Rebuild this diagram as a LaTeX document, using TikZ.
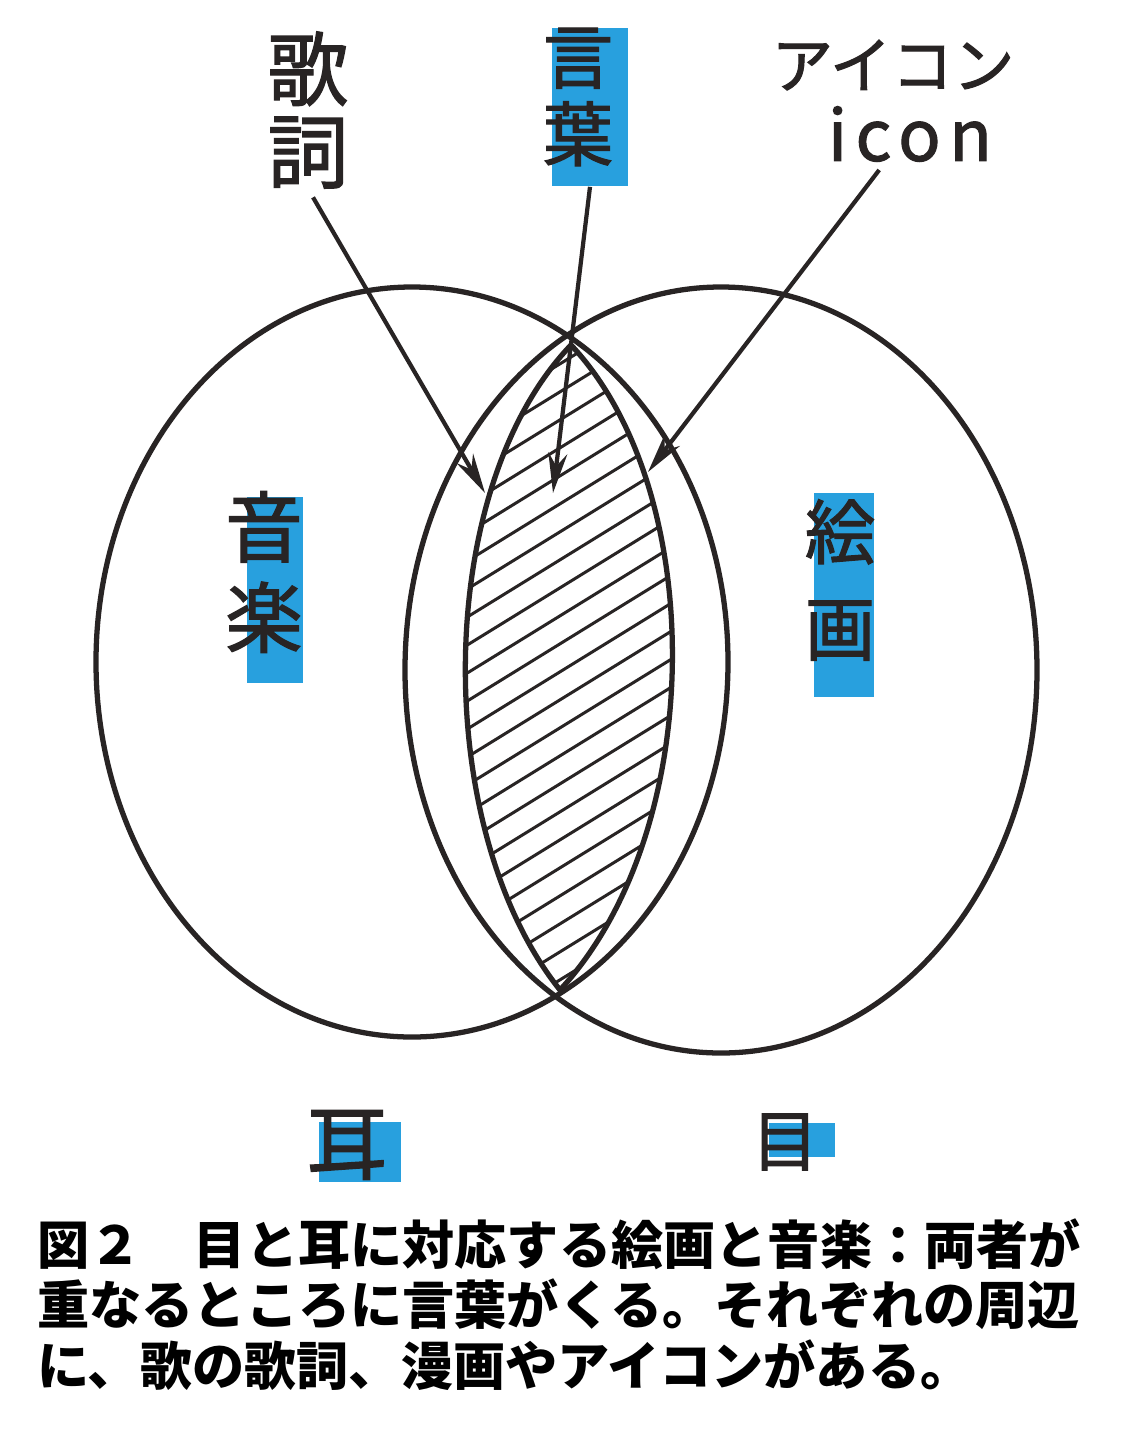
\documentclass[tikz,border=0pt]{standalone}
\usepackage{fontspec}
\newfontfamily\jp{Noto Sans CJK JP}
\newfontfamily\jphand{Noto Sans CJK JP}[FakeBold=1.6]
\usetikzlibrary{positioning, arrows.meta, calc}

\definecolor{ink}{RGB}{40,36,36}
\definecolor{marker}{RGB}{40,160,222}

\begin{document}
\begin{tikzpicture}[
    x=0.02cm, y=-0.02cm,
    outline/.style={
        draw=ink,
        line width=3pt
    },
    hatch/.style={
        draw=ink,
        line width=1.7pt
    },
    arrow/.style={
        draw=ink,
        line width=2.4pt,
        shorten <=2mm,
        -{Stealth[length=8mm, width=3.8mm]}
    },
    markbg/.style={
        fill=marker,
        draw=none,
        inner sep=0pt
    },
    hand/.style={
        text=ink,
        inner sep=0pt,
        align=center
    },
    caption/.style={
        text=black,
        inner sep=0pt,
        align=left,
        font=\jp\bfseries\fontsize{29.7pt}{34.6pt}\selectfont
    }
]

    % Paper
    \useasboundingbox (0,0) rectangle (1125,1438);
    \fill[white] (0,0) rectangle (1125,1438);

    % Highlighter marks
    \node[markbg, minimum width=1.52cm, minimum height=3.18cm] (words_bg) at (590,107) {};
    \node[markbg, minimum width=1.12cm, minimum height=3.72cm] (music_bg) at (275,590) {};
    \node[markbg, minimum width=1.2cm, minimum height=4.08cm] (picture_bg) at (844,595) {};
    \node[markbg, minimum width=1.66cm, minimum height=1.2cm] (ear_bg) at (360,1152) {};
    \node[markbg, minimum width=1.32cm, minimum height=0.68cm] (eye_bg) at (802,1140) {};

    % Two fields
    \draw[outline] (412,662) ellipse [x radius=316, y radius=375];
    \draw[outline] (721,670) ellipse [x radius=316, y radius=383];

    % Overlap (hatched)
    \begin{scope}
        \clip (571,345) .. controls (432,490) and (432,830) .. (560,990)
            .. controls (708,830) and (708,490) .. (571,345) -- cycle;
        \foreach \c in {360,388,...,1200}
            \draw[hatch] (430,\c) -- ++(300,-185);
    \end{scope}
    \draw[outline] (571,345) .. controls (432,490) and (432,830) .. (560,990)
        .. controls (708,830) and (708,490) .. (571,345) -- cycle;

    % Labels
    \node[hand, font=\jphand\fontsize{46pt}{47pt}\selectfont] (lyrics) at (308,110) {歌\\詞};
    \node[hand, font=\jphand\fontsize{40pt}{44pt}\selectfont] (words) at (578,97) {言\\葉};
    \node[hand, font=\jphand\fontsize{35pt}{40pt}\selectfont] (icon_jp) at (893,65) {アイコン};
    \node[hand, font=\jphand\addfontfeature{LetterSpace=12}\fontsize{40pt}{44pt}\selectfont] (icon) at (910,134) {icon};
    \node[hand, font=\jphand\fontsize{44pt}{51.6pt}\selectfont] (music) at (264,572) {音\\楽};
    \node[hand, font=\jphand\fontsize{40pt}{55pt}\selectfont] (picture) at (840,580) {絵\\画};
    \node[hand, font=\jphand\fontsize{46pt}{50pt}\selectfont] (ear) at (347,1145) {耳};
    \node[hand, font=\jphand\fontsize{38pt}{44pt}\selectfont] (eye) at (785,1142) {目};

    % Pointers
    \coordinate (lyrics_tip) at (485,493);
    \coordinate (words_tip) at (553,493);
    \coordinate (icon_tip) at (648,472);
    \draw[arrow] (lyrics.south) -- (lyrics_tip);
    \draw[arrow, shorten <=0pt] (words_bg.south) -- (words_tip);
    \draw[arrow] ($(icon.south)!0.3!(icon.south west)$) -- (icon_tip);

    % Caption
    \node[caption, anchor=north west] (cap) at (37,1218) {%
        図２　目と耳に対応する絵画と音楽：両者が\\
        重なるところに言葉がくる。それぞれの周辺\\
        に、歌の歌詞、漫画やアイコンがある。};

\end{tikzpicture}
\end{document}
